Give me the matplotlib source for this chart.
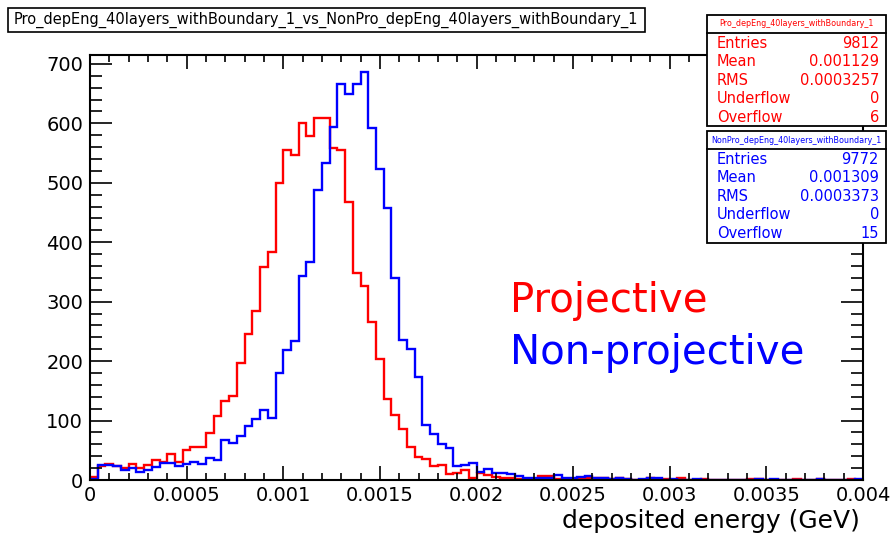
import matplotlib
matplotlib.use("Agg")
import matplotlib.pyplot as plt
from matplotlib.patches import Rectangle
from matplotlib.ticker import MultipleLocator, FuncFormatter
import numpy as np

# histogram binning: 100 bins between 0 and 0.004 GeV
x_min, x_max, n_bins = 0.0, 0.004, 100

# bin contents (projective = red)
pro_counts = [
    5, 24, 27, 23, 20, 27, 20, 25, 33, 30,
    44, 31, 50, 55, 55, 79, 107, 133, 142, 197,
    245, 285, 359, 384, 500, 556, 546, 601, 579, 609,
    609, 558, 556, 467, 349, 326, 266, 204, 136, 109,
    85, 56, 39, 36, 23, 26, 10, 12, 17, 4,
    11, 8, 5, 3, 3, 2, 1, 2, 6, 6,
    1, 2, 2, 3, 3, 4, 3, 1, 3, 1,
    0, 0, 3, 0, 2, 0, 3, 0, 0, 2,
    0, 0, 0, 0, 0, 2, 2, 0, 0, 0,
    0, 1, 0, 0, 2, 0, 0, 0, 2, 0,
]

# non-projective = blue
nonpro_counts = [
    2, 26, 26, 24, 17, 20, 14, 17, 22, 28,
    28, 23, 27, 30, 27, 37, 34, 68, 63, 74,
    91, 102, 118, 104, 180, 218, 234, 343, 367, 488,
    533, 594, 666, 650, 666, 686, 592, 523, 457, 340,
    236, 221, 174, 92, 78, 61, 53, 23, 26, 28,
    13, 18, 11, 12, 10, 7, 3, 4, 4, 3,
    8, 3, 3, 5, 6, 3, 3, 1, 3, 1,
    0, 1, 4, 4, 0, 1, 0, 0, 1, 0,
    0, 0, 0, 0, 0, 0, 1, 0, 2, 0,
    0, 0, 0, 0, 2, 0, 0, 0, 0, 1,
]

title = "Pro_depEng_40layers_withBoundary_1_vs_NonPro_depEng_40layers_withBoundary_1"
pro_name = "Pro_depEng_40layers_withBoundary_1"
nonpro_name = "NonPro_depEng_40layers_withBoundary_1"
stat_labels = ["Entries", "Mean", "RMS", "Underflow", "Overflow"]
pro_stats = ["9812", "0.001129", "0.0003257", "0", "6"]
nonpro_stats = ["9772", "0.001309", "0.0003373", "0", "15"]

W, H = 893, 533


def fx(px):
    return px / W


def fy(py):
    return 1 - py / H


fig = plt.figure(figsize=(W / 100, H / 100), dpi=100)
ax = fig.add_axes([fx(90), fy(480), 773 / W, 425 / H])

edges = np.linspace(x_min, x_max, n_bins + 1)
ax.stairs(pro_counts, edges, color="#ff0000", linewidth=1.7)
ax.stairs(nonpro_counts, edges, color="#0000ff", linewidth=1.7)

ax.set_xlim(x_min, x_max)
ax.set_ylim(0, 715)

ax.xaxis.set_major_locator(MultipleLocator(0.0005))
ax.xaxis.set_minor_locator(MultipleLocator(0.0001))
ax.yaxis.set_major_locator(MultipleLocator(100))
ax.yaxis.set_minor_locator(MultipleLocator(20))
ax.xaxis.set_major_formatter(FuncFormatter(lambda v, p: "%g" % round(v, 6)))

ax.tick_params(axis="x", which="major", direction="in", length=10, width=1.2,
               top=True, labelsize=14, pad=4)
ax.tick_params(axis="x", which="minor", direction="in", length=5, width=1.2, top=True)
ax.tick_params(axis="y", which="major", direction="in", length=16, width=1.2,
               right=True, labelsize=14, pad=5)
ax.tick_params(axis="y", which="minor", direction="in", length=8.5, width=1.2, right=True)
for s in ax.spines.values():
    s.set_linewidth(1.5)

fig.text(fx(860), fy(528), "deposited energy (GeV)", ha="right", va="baseline", fontsize=18)

ax.text(0.002175, 283, "Projective", color="#ff0000", fontsize=29, va="baseline")
ax.text(0.002175, 195, "Non-projective", color="#0000ff", fontsize=29, va="baseline")

# title box
fig.patches.append(Rectangle((fx(8), fy(32)), fx(645 - 8), 24 / H, transform=fig.transFigure,
                             facecolor="white", edgecolor="black", linewidth=1.2, zorder=2))
fig.text(fx(326), fy(20), title, ha="center", va="center", fontsize=10.5, zorder=3)


def stats_box(top, bottom, name, values, color):
    fig.patches.append(Rectangle((fx(707), fy(bottom)), fx(886 - 707), (bottom - top) / H,
                                 transform=fig.transFigure, facecolor="white",
                                 edgecolor="black", linewidth=1.3, zorder=2))
    sep = top + 18
    fig.lines.append(plt.Line2D([fx(707), fx(886)], [fy(sep), fy(sep)],
                                transform=fig.transFigure, color="black", linewidth=1.3, zorder=3))
    fig.text(fx(796), fy(top + 9), name, ha="center", va="center", fontsize=5.8,
             color=color, zorder=4)
    for i, (lab, val) in enumerate(zip(stat_labels, values)):
        yy = sep + 10 + i * 18.6
        fig.text(fx(717), fy(yy), lab, ha="left", va="center", fontsize=10.5, color=color, zorder=4)
        fig.text(fx(879), fy(yy), val, ha="right", va="center", fontsize=10.5, color=color, zorder=4)


stats_box(15, 126, pro_name, pro_stats, "#ff0000")
stats_box(131, 243, nonpro_name, nonpro_stats, "#0000ff")

fig.savefig("out.png", dpi=100)
